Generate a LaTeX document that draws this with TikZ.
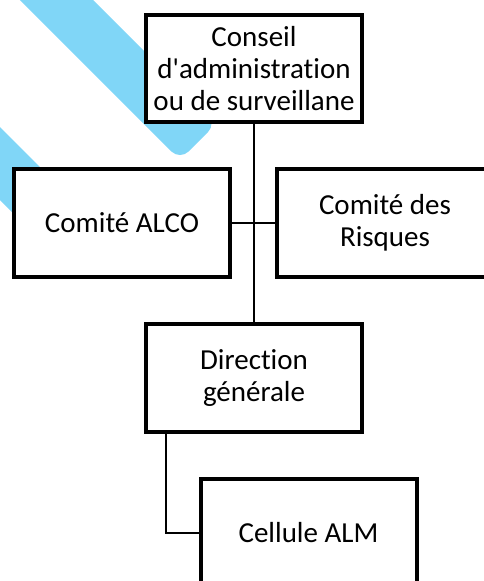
\documentclass[tikz,border=0pt]{standalone}
\usepackage{fontspec}
\setmainfont[Ligatures=NoCommon]{Carlito}
\definecolor{stripeblue}{RGB}{128,214,247}
\begin{document}
\begin{tikzpicture}[x=1pt,y=-1pt,
  orgbox/.style={draw=black,line width=4pt,fill=white,align=center,
    minimum width=216pt,minimum height=107.5pt,inner sep=2pt,
    font=\fontsize{29}{32}\selectfont},
  link/.style={draw=black,line width=2.6pt}]
\useasboundingbox (0,0) rectangle (484,581);
\clip (0,0) rectangle (484,581);

% decorative diagonal bands
\fill[stripeblue,rounded corners=12pt]
  (-10,-30) -- (180,160) -- (216.5,123.5) -- (63,-30) -- cycle;
\fill[stripeblue,rounded corners=12pt]
  (-40,87) -- (100,227) -- (63.5,263.5) -- (-40,160) -- cycle;

% boxes
\node[orgbox] (conseil) at (254,68.5) {Conseil\\d\textquotesingle administration\\ou de surveillane};
\node[orgbox] (alco) at (122,223) {Comité ALCO};
\node[orgbox] (risques) at (385,223) {Comité des\\Risques};
\node[orgbox] (direction) at (254,378) {Direction\\générale};
\node[orgbox] (alm) at (308.5,533) {Cellule ALM};

% connectors
\draw[link] (conseil.south) -- (direction.north);
\draw[link] (alco.east) -- (risques.west);
\draw[link] ([xshift=-88pt]direction.south) |- (alm.west);
\end{tikzpicture}
\end{document}
